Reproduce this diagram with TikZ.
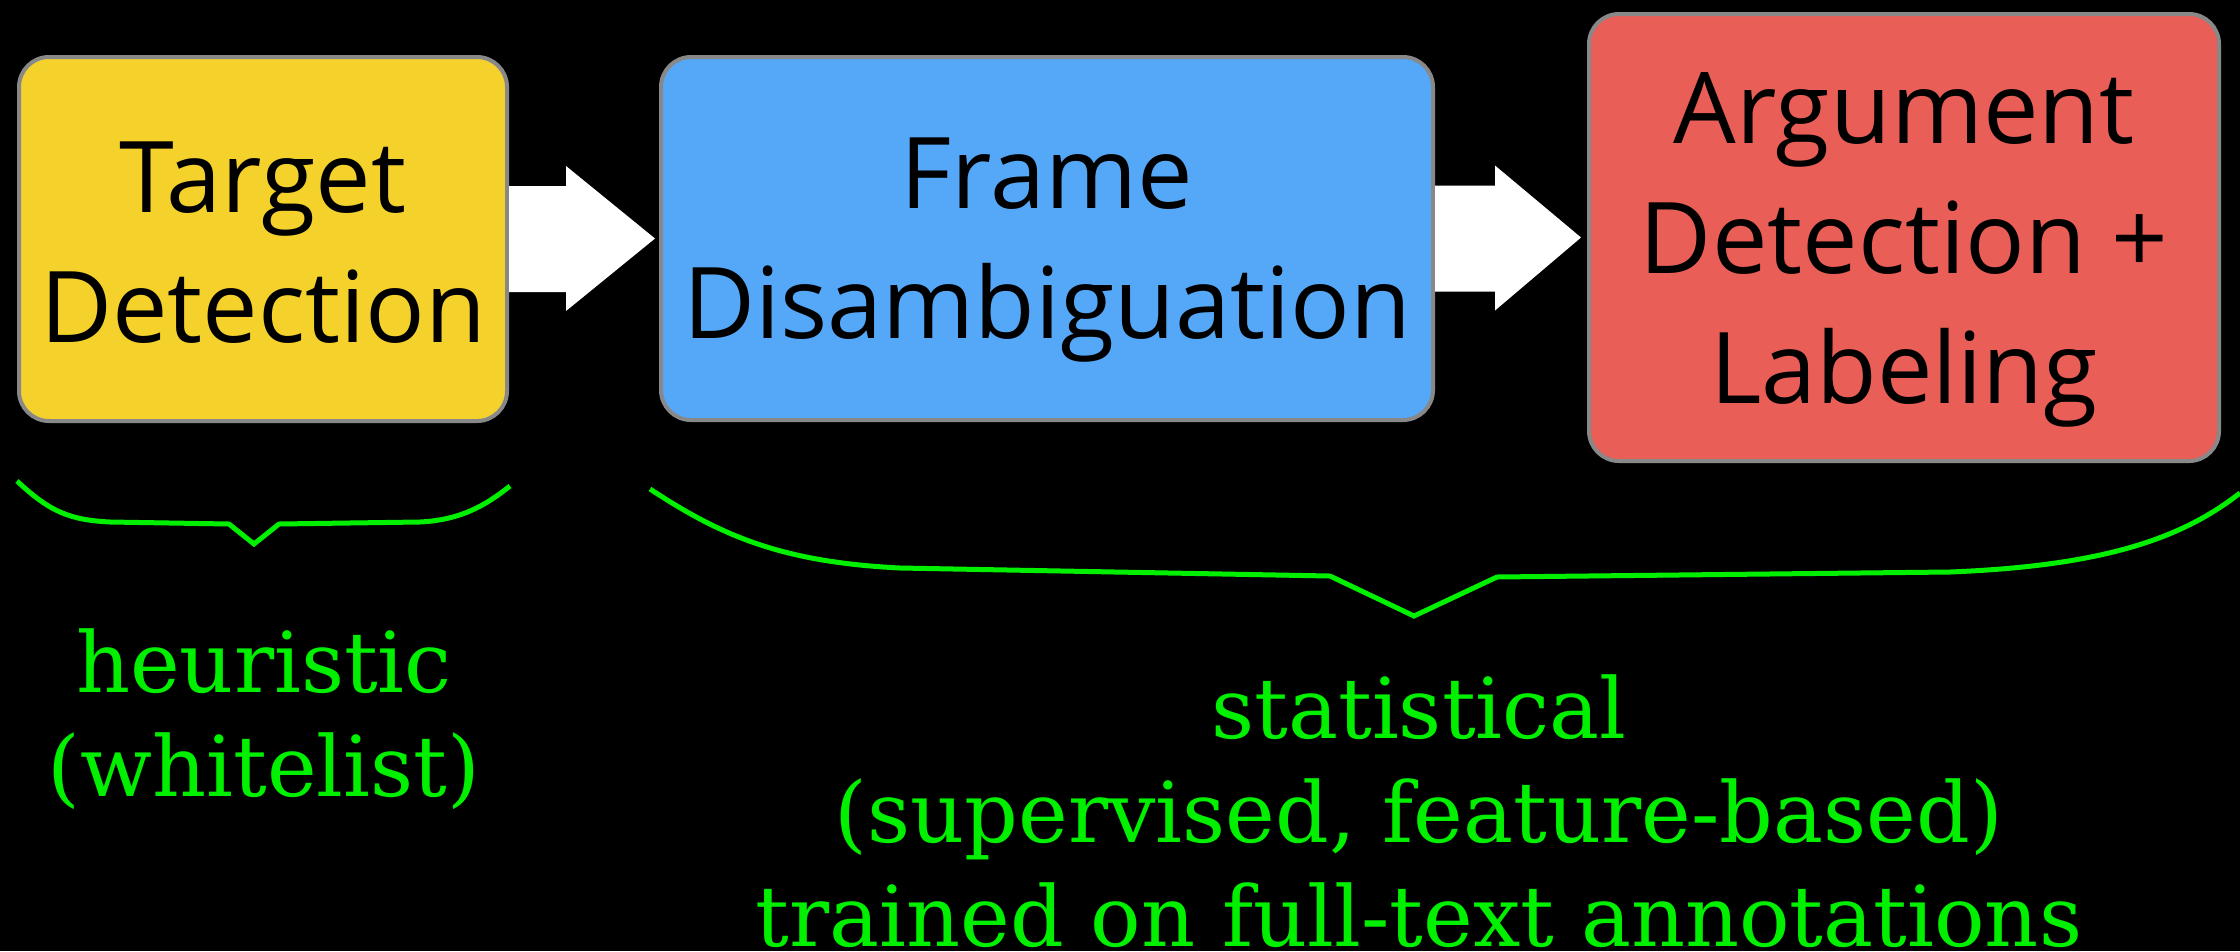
\documentclass[tikz,border=0pt]{standalone}
\usepackage{fontspec}
\newfontfamily\boxfont{Open Sans}
\newfontfamily\notefont{DejaVu Serif}
\usetikzlibrary{calc}
\definecolor{yel}{HTML}{F4D22B}
\definecolor{blu}{HTML}{55A8F8}
\definecolor{rd}{HTML}{E95E57}
\definecolor{edge}{HTML}{888888}
\definecolor{grn}{HTML}{00F000}
\tikzset{
  stage/.style={draw=edge, line width=4pt, rounded corners=30pt, inner sep=0pt},
  stagetext/.style={align=center, inner sep=0pt, font=\boxfont\fontsize{99}{130}\selectfont, text=black},
  note/.style={align=center, text=grn, inner sep=0pt, font=\notefont\fontsize{84}{104}\selectfont},
  brace/.style={draw=grn, line width=5pt, line join=miter},
  blockarrow/.style={fill=white}
}
\begin{document}
\begin{tikzpicture}[x=1pt,y=-1pt]
\fill[black] (0,0) rectangle (2240,951);
\useasboundingbox (0,0) rectangle (2240,951);
\node[stage, fill=yel, minimum width=488pt, minimum height=364pt] (tgt) at (263,239) {};
\node[stage, fill=blu, minimum width=772pt, minimum height=363pt] (frm) at (1047,238.5) {};
\node[stage, fill=rd, minimum width=630pt, minimum height=447pt] (arg) at (1904,237.5) {};
\node[stagetext] (tgtL) at ($(tgt.center)+(0,4)$) {Target\\Detection};
\node[stagetext] (frmL) at ($(frm.center)+(0,12)$) {Frame\\Disambiguation};
\node[stagetext] (argL) at ($(arg.center)+(0,12)$) {Argument\\Detection +\\Labeling};
% block arrows
\fill[blockarrow] ($(tgt.east)+(0,-53)$) -- ++(57,0) -- ++(0,-20) -- ($(frm.west)+(-4,0)$)
  -- ($(tgt.east)+(57,72)$) -- ++(0,-19) -- ($(tgt.east)+(0,53)$) -- cycle;
\fill[blockarrow] ($(frm.east)+(0,-53)$) -- ++(60,0) -- ++(0,-20) -- ($(arg.west)+(-6,0)$)
  -- ($(frm.east)+(60,72)$) -- ++(0,-19) -- ($(frm.east)+(0,53)$) -- cycle;
% braces
\coordinate (b1tip) at (254,544);
\draw[brace] (17,481) .. controls (50,512) and (70,520) .. (110,522) -- (229,524) -- (b1tip) -- (279,524) -- (420,522)
  .. controls (460,520) and (485,506) .. (510,486);
\coordinate (b2tip) at (1414,616);
\draw[brace] (650,489) .. controls (720,535) and (780,562) .. (900,568) -- (1330,576) -- (b2tip) -- (1497,577) -- (1950,572)
  .. controls (2100,566) and (2180,540) .. (2240,493);
\node[note] (heu) at (264,719) {heuristic\\(whitelist)};
\node[note] (stat) at (1419,811) {statistical\\(supervised, feature-based)\\trained on full-text annotations};
\end{tikzpicture}
\end{document}
